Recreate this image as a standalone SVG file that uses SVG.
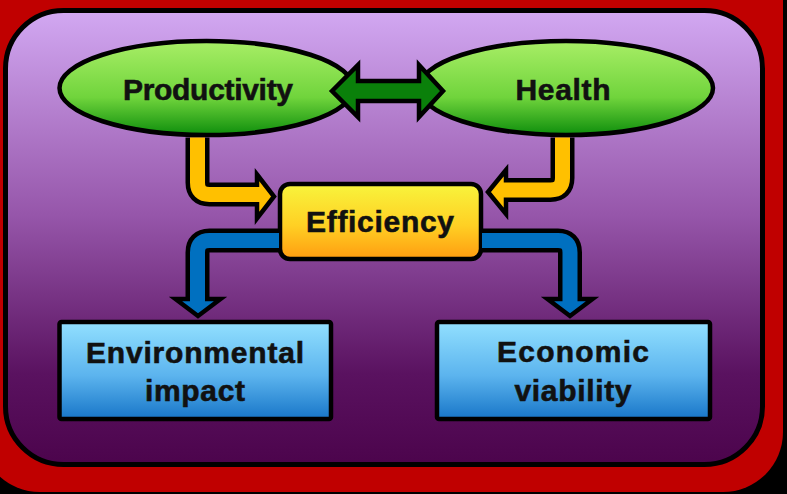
<svg xmlns="http://www.w3.org/2000/svg" width="787" height="494" viewBox="0 0 787 494">
<defs>
<linearGradient id="bg" x1="0" y1="0" x2="0" y2="1">
<stop offset="0" stop-color="#d2a8f2"/>
<stop offset="0.45" stop-color="#9656aa"/>
<stop offset="0.8" stop-color="#5a1260"/>
<stop offset="1" stop-color="#4c044c"/>
</linearGradient>
<linearGradient id="gEll" x1="0" y1="0" x2="0" y2="1">
<stop offset="0" stop-color="#a8ee66"/>
<stop offset="0.6" stop-color="#70d43c"/>
<stop offset="1" stop-color="#0e8e0c"/>
</linearGradient>
<linearGradient id="gEff" x1="0" y1="0" x2="0" y2="1">
<stop offset="0" stop-color="#f8f43c"/>
<stop offset="0.55" stop-color="#ffd024"/>
<stop offset="1" stop-color="#ff9c10"/>
</linearGradient>
<linearGradient id="gBox" x1="0" y1="0" x2="0" y2="1">
<stop offset="0" stop-color="#92e0ff"/>
<stop offset="0.55" stop-color="#5cb4ee"/>
<stop offset="1" stop-color="#1876c8"/>
</linearGradient>
</defs>
<style>
.lbl{font-family:"Liberation Sans",Arial,sans-serif;font-weight:bold;font-size:30px;fill:#111;stroke:#111;stroke-width:0.6;text-anchor:middle}
.nodeS{stroke:#000;stroke-width:4.5}
.outl{fill:none;stroke:#000;stroke-width:24}
.yel{fill:none;stroke:#ffc000;stroke-width:15}
.blu{fill:none;stroke:#0070c0;stroke-width:15}
.headY{fill:#ffc000;stroke:#000;stroke-width:4.5;stroke-linejoin:miter}
.headB{fill:#0070c0;stroke:#000;stroke-width:4.5;stroke-linejoin:miter}
</style>
<rect x="0" y="0" width="787" height="494" fill="#000"/>
<path d="M-20,-20 H783 V432 A60,60 0 0 1 723,492 H40 A60,60 0 0 1 -20,432 Z" fill="#c00000"/>
<rect x="5.5" y="10.5" width="757" height="454" rx="58" fill="url(#bg)" stroke="#000" stroke-width="5"/>

<g id="productivity">
<ellipse cx="206.5" cy="88" rx="147" ry="47" fill="url(#gEll)" class="nodeS"/>
<text class="lbl" x="208" y="100" textLength="170" lengthAdjust="spacing">Productivity</text>
</g>
<g id="health">
<ellipse cx="566" cy="88" rx="147" ry="47" fill="url(#gEll)" class="nodeS"/>
<text class="lbl" x="563" y="100" textLength="95" lengthAdjust="spacing">Health</text>
</g>
<g id="efficiency">
<rect x="280" y="184" width="201" height="75" rx="10" fill="url(#gEff)" class="nodeS"/>
<text class="lbl" x="380" y="232" textLength="148" lengthAdjust="spacing">Efficiency</text>
</g>
<g id="environmental">
<rect x="59.5" y="322" width="271.5" height="97" rx="2" fill="url(#gBox)" class="nodeS"/>
<text class="lbl" x="195" y="363" textLength="218" lengthAdjust="spacing">Environmental</text>
<text class="lbl" x="195" y="401" textLength="100" lengthAdjust="spacing">impact</text>
</g>
<g id="economic">
<rect x="437" y="322" width="273" height="97" rx="2" fill="url(#gBox)" class="nodeS"/>
<text class="lbl" x="573" y="362" textLength="152" lengthAdjust="spacing">Economic</text>
<text class="lbl" x="573" y="401" textLength="117" lengthAdjust="spacing">viability</text>
</g>

<g id="connectors">
<path class="outl" d="M197.5,137.5 V182.5 Q197.5,194.5 209.5,194.5 H258"/>
<polygon class="headY" points="257,174.5 274,196.5 257,218.5"/>
<path class="yel" d="M197.5,137.5 V182.5 Q197.5,194.5 209.5,194.5 H261"/>
<path class="outl" d="M562.5,137.5 V178 Q562.5,190 550.5,190 H504"/>
<polygon class="headY" points="506,170 488,192 506,214"/>
<path class="yel" d="M562.5,137.5 V178 Q562.5,190 550.5,190 H502"/>
<path class="outl" d="M279,240.5 H209.5 Q197.5,240.5 197.5,252.5 V300"/>
<polygon class="headB" points="175.5,299 220.5,299 198,316"/>
<path class="blu" d="M279,240.5 H209.5 Q197.5,240.5 197.5,252.5 V303"/>
<path class="outl" d="M482,240.5 H558 Q570,240.5 570,252.5 V300"/>
<polygon class="headB" points="547.5,299 592.5,299 570,316"/>
<path class="blu" d="M482,240.5 H558 Q570,240.5 570,252.5 V303"/>
<polygon points="332,91 358,65 358,81 419,81 419,65 443,91 419,117 419,101 358,101 358,117" fill="#0a800a" stroke="#000" stroke-width="4.5" stroke-linejoin="miter"/>
</g>
</svg>
